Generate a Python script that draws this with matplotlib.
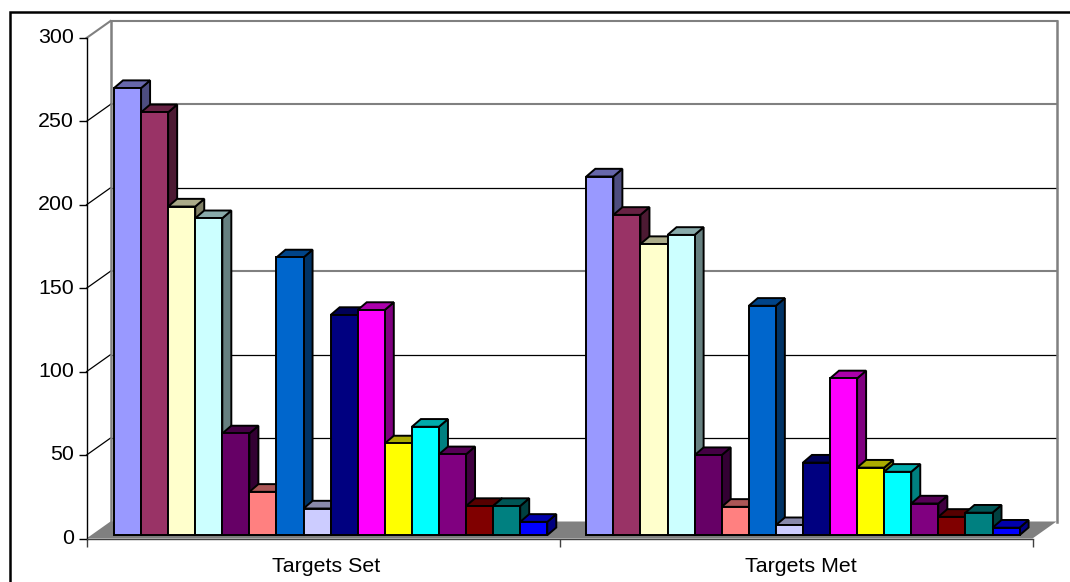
import matplotlib
matplotlib.use("Agg")
import matplotlib.pyplot as plt
from matplotlib.patches import Polygon, Rectangle
from matplotlib.colors import to_rgb
from matplotlib.transforms import ScaledTranslation

categories = ["Targets Set", "Targets Met"]
targets_set = [268, 253.5, 197, 190, 61, 26, 166.5, 16, 132, 135, 55, 65, 48.5, 17.5, 17.5, 8]
targets_met = [215, 192, 174.5, 180, 48, 17, 137.5, 6, 43.5, 94, 40.5, 38, 19, 11, 13.5, 4.5]
series_colors = ["#9999FF", "#993366", "#FFFFCC", "#CCFFFF", "#660066", "#FF8080",
                 "#0066CC", "#CCCCFF", "#000080", "#FF00FF", "#FFFF00", "#00FFFF",
                 "#800080", "#800000", "#008080", "#0000FF"]
y_ticks = [0, 50, 100, 150, 200, 250, 300]

W, H = 1070, 582
plt.rcParams["font.family"] = ["Liberation Sans", "DejaVu Sans"]
fig = plt.figure(figsize=(W / 100, H / 100), dpi=100, facecolor="white")

# outer frame (runs off the right and bottom of the picture)
fig.add_artist(Rectangle((9.5 / W, -0.1), W, 1.1 - 11.5 / H, transform=fig.transFigure,
                         fill=False, edgecolor="black", linewidth=1.8))

L, R, T, B = 86.5, 1032.5, 38, 538.5
ax = fig.add_axes([L / W, 1 - B / H, (R - L) / W, (B - T) / H])
ax.set_xlim(0, 2)
ax.set_ylim(0, 300)
ax.patch.set_alpha(0)

px_x = 2 / (R - L)
px_y = 300 / (B - T)
WALL_DX, WALL_DY = 24 * px_x, 17 * px_y
BAR_DX, BAR_DY = 9 * px_x, 7.7 * px_y
BASE = 3.3 * px_y
START = 27.5 * px_x
BAR_W = 27.08 * px_x
GROUP_STEP = 472.3 * px_x
GREY = "#808080"
GREY_LINES = (150, 250, 300)

# floor
ax.add_patch(Polygon([(0, 0), (WALL_DX, WALL_DY), (2 + WALL_DX, WALL_DY), (2, 0)],
                     closed=True, facecolor=GREY, edgecolor="none", zorder=1, clip_on=False))
# back wall and side wall lines
for v in y_ticks[1:]:
    c, lw = (GREY, 1.5) if v in GREY_LINES else ("black", 0.9)
    ax.plot([WALL_DX, 2 + WALL_DX], [v + WALL_DY] * 2, color=c, lw=lw, zorder=1, clip_on=False)
    ax.plot([0, WALL_DX], [v, v + WALL_DY], color=GREY if v == 300 else "black",
            lw=1.5 if v == 300 else 0.9, zorder=1, clip_on=False)
for x0 in (WALL_DX, 2 + WALL_DX):
    ax.plot([x0, x0], [WALL_DY, 300 + WALL_DY], color=GREY, lw=1.8, zorder=1, clip_on=False)


def shade(color, k):
    return tuple(c * k for c in to_rgb(color))


EDGE = 1.4
z = 3
for c_i, values in enumerate([targets_set, targets_met]):
    for i, v in enumerate(values):
        x0 = c_i * GROUP_STEP + START + i * BAR_W
        col = series_colors[i]
        top = BASE + v
        side = Polygon([(x0 + BAR_W, BASE), (x0 + BAR_W + BAR_DX, BASE + BAR_DY),
                        (x0 + BAR_W + BAR_DX, top + BAR_DY), (x0 + BAR_W, top)], closed=True,
                       facecolor=shade(col, 0.5), edgecolor="black", lw=EDGE, zorder=z, clip_on=False)
        roof = Polygon([(x0, top), (x0 + BAR_DX, top + BAR_DY), (x0 + BAR_W + BAR_DX, top + BAR_DY),
                        (x0 + BAR_W, top)], closed=True,
                       facecolor=shade(col, 0.67), edgecolor="black", lw=EDGE, zorder=z, clip_on=False)
        ax.add_patch(side)
        ax.add_patch(roof)
        ax.bar(x0, v, width=BAR_W, bottom=BASE, align="edge", color=col, edgecolor="black",
               linewidth=EDGE, zorder=z + 0.5, clip_on=False)
        z += 1

# axes furniture
for s in ("top", "right"):
    ax.spines[s].set_visible(False)
for s in ("left", "bottom"):
    ax.spines[s].set_linewidth(1.0)
    ax.spines[s].set_zorder(200)
ax.spines["bottom"].set_color("#404040")
ax.set_yticks(y_ticks)
ax.set_xticks([0, 1, 2])
ax.set_xticklabels([])
ax.set_xticks([(326.5 - L) * px_x, (800.5 - L) * px_x], minor=True)
ax.set_xticklabels(categories, minor=True)
ax.tick_params(axis="y", length=6, width=1.0, labelsize=15.4, pad=3)
ax.tick_params(axis="x", which="major", length=6, width=1.0, color="#404040")
ax.tick_params(axis="x", which="minor", length=0, labelsize=15.4, pad=13)
up = ScaledTranslation(0, 1.5 / 72, fig.dpi_scale_trans)
for lab in ax.get_yticklabels():
    lab.set_transform(lab.get_transform() + up)

fig.savefig("out.png", dpi=100, facecolor="white")
